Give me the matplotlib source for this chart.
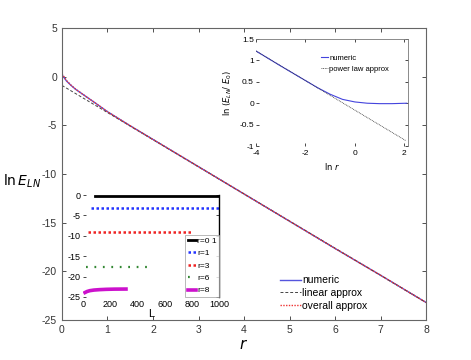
import numpy as np
import matplotlib
matplotlib.use("Agg")
import matplotlib.pyplot as plt

plt.rcParams['font.family'] = ['Liberation Sans', 'DejaVu Sans']
plt.rcParams['axes.unicode_minus'] = False

# main panel: ln E_LN vs r
r_num = [0, 0.1, 0.2, 0.3, 0.5, 0.7, 1, 1.5, 2, 3, 4, 5, 6, 7, 8]
lnE_num = [0.2, -0.45, -0.9, -1.3, -1.95, -2.6, -3.6, -5.05, -6.45, -9.25, -12.05, -14.85, -17.65, -20.4, -23.2]
r_lin = [0, 8]
lnE_lin = [-0.9, -23.2]
r_all = [0, 0.1, 0.2, 0.3, 0.5, 0.7, 1, 1.5, 2, 3, 4, 5, 6, 7, 8]
lnE_all = [0.3, -0.4, -0.88, -1.28, -1.95, -2.6, -3.6, -5.05, -6.45, -9.25, -12.05, -14.85, -17.65, -20.4, -23.2]

# inset top right: ln(E_LN/E_0) vs ln r
lnr_num = [-4, -3, -2, -1.5, -1, -0.5, 0, 0.5, 1, 1.5, 2.1]
ratio_num = [1.22, 0.87, 0.53, 0.36, 0.21, 0.09, 0.03, 0.0, -0.01, -0.01, 0.0]
lnr_pow = [-4, 2.05]
ratio_pow = [1.22, -0.87]

# inset bottom left: ln E_LN vs L for several r
L_r01 = [88, 1000]
E_r01 = [-0.2, -0.2]
L_r1 = [59, 1000]
E_r1 = [-3.3, -3.3]
L_r3 = [34, 794]
E_r3 = [-9.0, -9.0]
L_r6 = [20, 475]
E_r6 = [-17.6, -17.6]
L_r8 = [15, 30, 50, 80, 120, 170, 230, 316]
E_r8 = [-23.9, -23.65, -23.45, -23.3, -23.2, -23.12, -23.07, -23.05]

fig = plt.figure(figsize=(4.71, 3.6), dpi=100)

ax = fig.add_axes([0.1316, 0.1111, 0.773, 0.8111])
ax.plot(r_num, lnE_num, color='#5555dd', lw=1.0, label='numeric')
ax.plot(r_lin, lnE_lin, color='#444444', lw=0.7, ls=(0, (3, 2)), label='linear approx')
ax.plot(r_all, lnE_all, color='#ee3333', lw=1.0, ls=(0, (1, 1)), label='overall approx')
ax.set_xlim(0, 8)
ax.set_ylim(-25, 5)
ax.set_xticks(range(0, 9))
ax.set_yticks([5, 0, -5, -10, -15, -20, -25])
ax.tick_params(direction='in', top=True, right=True, labelsize=7.5, length=3, width=0.6, colors='#333333')
for s in ax.spines.values():
    s.set_color('#666666')
    s.set_linewidth(0.8)
ax.set_xlabel(r'$r$', fontsize=11, labelpad=2)
ax.set_ylabel(r'$\mathrm{ln}\,E_{LN}$', fontsize=10, rotation=0)
ax.yaxis.set_label_coords(-0.11, 0.445)
ax.legend(loc='lower right', bbox_to_anchor=(0.865, 0.0), frameon=False, fontsize=7.5,
          handlelength=2.0, handletextpad=0.1, labelspacing=0.25)

# top right inset
ax1 = fig.add_axes([0.5435, 0.5944, 0.3227, 0.2972])
ax1.plot(lnr_num, ratio_num, color='#4444dd', lw=0.8, label='numeric')
ax1.plot(lnr_pow, ratio_pow, color='#333333', lw=0.6, ls=(0, (1, 1)), label='power law approx')
ax1.set_xlim(-4, 2.15)
ax1.set_ylim(-1, 1.5)
ax1.set_xticks([-4, -2, 0, 2])
ax1.set_yticks([-1, -0.5, 0, 0.5, 1, 1.5])
ax1.set_yticklabels(['-1', '-0.5', '0', '0.5', '1', '1.5'])
ax1.tick_params(direction='in', top=True, right=True, labelsize=6, length=2, width=0.5, pad=1.5)
ax1.tick_params(axis='x', pad=3)
ax1.spines['left'].set_visible(False)
ax1.spines['bottom'].set_visible(False)
for s in ['top', 'right']:
    ax1.spines[s].set_color('#777777')
    ax1.spines[s].set_linewidth(0.6)
ax1.set_xlabel(r'$\mathrm{ln}\ r$', fontsize=6, labelpad=3)
ax1.set_ylabel(r'$\mathrm{ln}\ (E_{LN}/\ E_0)$', fontsize=6, labelpad=4)
ax1.legend(loc='upper right', bbox_to_anchor=(0.92, 0.92), frameon=False, fontsize=5.5,
           handlelength=1.0, handletextpad=0.1, labelspacing=0.5)

# bottom left inset
ax2 = fig.add_axes([0.1762, 0.175, 0.2888, 0.2833])
ax2.set_facecolor('white')
ax2.plot(L_r01, E_r01, color='black', lw=2.0, label='r=0 1')
ax2.plot(L_r1, E_r1, color='#2233ff', lw=1.8, ls=(0, (1, 1)), label='r=1')
ax2.plot(L_r3, E_r3, color='#ee2222', lw=1.8, ls=(0, (1, 1)), label='r=3')
ax2.plot(L_r6, E_r6, color='#338833', lw=1.6, ls=(0, (0.8, 3)), label='r=6')
ax2.plot(L_r8, E_r8, color='#cc11cc', lw=2.6, label='r=8')
ax2.set_xlim(0, 1000)
ax2.set_ylim(-25, 0)
ax2.set_xticks([0, 200, 400, 600, 800, 1000])
ax2.set_yticks([0, -5, -10, -15, -20, -25])
ax2.tick_params(direction='in', labelsize=6.5, length=0, pad=2)
ax2.tick_params(axis='y', right=True, length=2, width=0.5)
ax2.spines['left'].set_visible(False)
ax2.spines['top'].set_visible(False)
ax2.spines['bottom'].set_visible(False)
ax2.spines['right'].set_color('black')
ax2.spines['right'].set_linewidth(1.0)
ax2.set_xlabel('L', fontsize=8, labelpad=0)
leg2 = ax2.legend(loc='lower right', bbox_to_anchor=(1.0, 0.0), frameon=True, fontsize=6,
                  handlelength=1.0, handletextpad=0.1, labelspacing=0.55, borderpad=0.3,
                  fancybox=False, borderaxespad=0.0)
leg2.get_frame().set_edgecolor('#999999')
leg2.get_frame().set_linewidth(0.6)

fig.savefig('out.png', dpi=100)
